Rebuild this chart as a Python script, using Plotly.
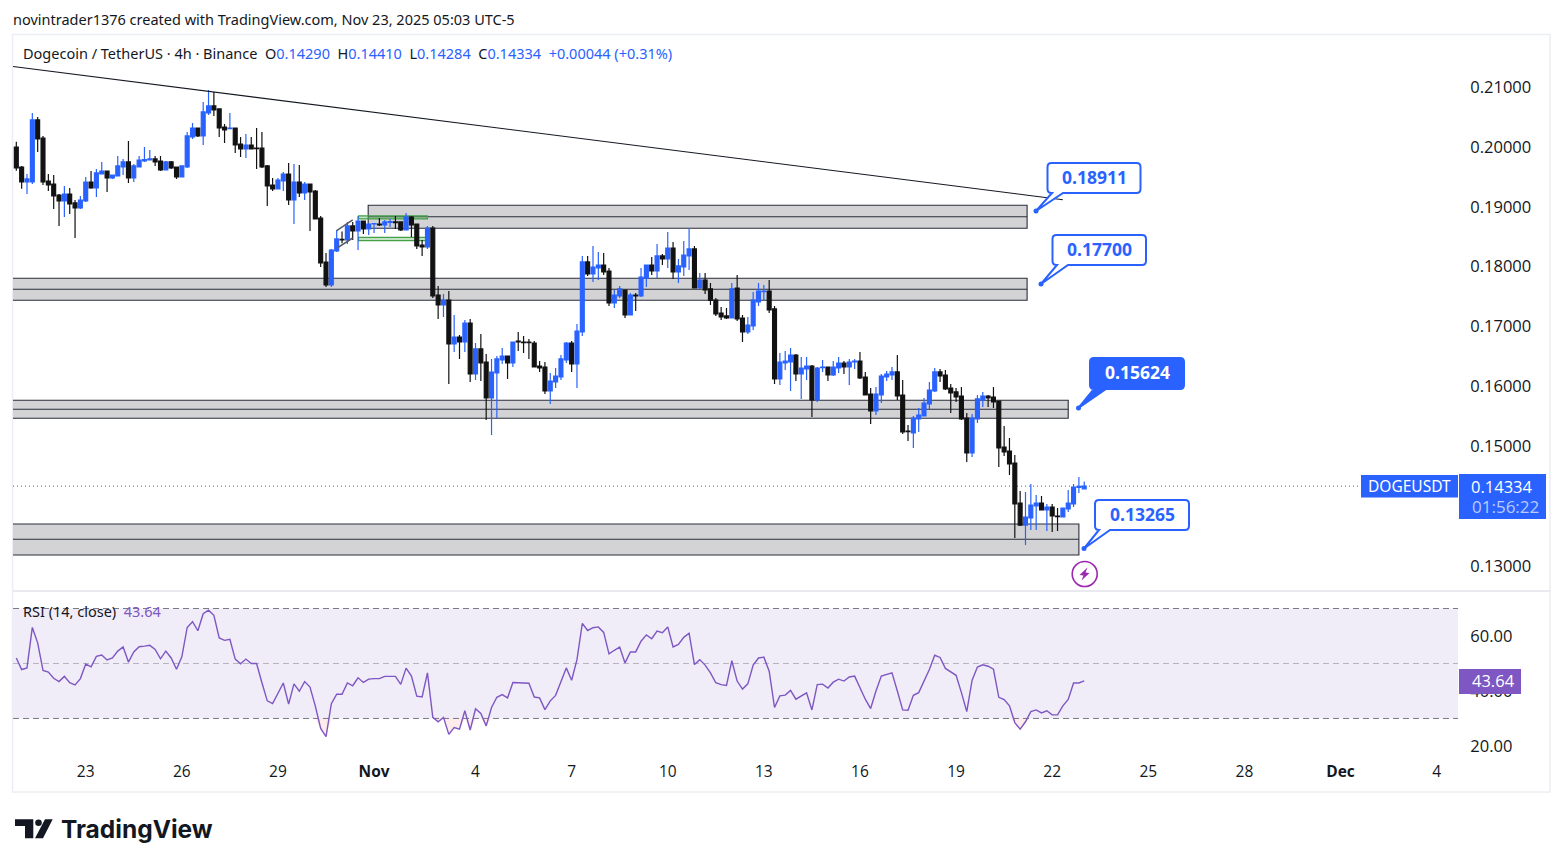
import plotly.graph_objects as go

W, H = 1563, 867
UP = "#2962ff"
DOWN = "#121212"
PURPLE = "#7e57c2"
TEXT = "#131722"
FONT = "Noto Sans"
TICK_FONT = "Open Sans"

opens = [
    0.19998, 0.19664, 0.19413, 0.19413, 0.20449, 0.20148, 0.19430, 0.19380, 0.19196, 0.19096,
    0.19213, 0.19063, 0.18979, 0.19096, 0.19413, 0.19313, 0.19547, 0.19597, 0.19480, 0.19514,
    0.19664, 0.19748, 0.19480, 0.19664, 0.19764, 0.19781, 0.19798, 0.19764, 0.19614, 0.19748,
    0.19664, 0.19497, 0.19664, 0.20165, 0.20315, 0.20182, 0.20566, 0.20683, 0.20633, 0.20332,
    0.20304, 0.20315, 0.20048, 0.19965, 0.20031, 0.19981, 0.19981, 0.19681, 0.19363, 0.19297,
    0.19430, 0.19547, 0.19113, 0.19413, 0.19230, 0.19380, 0.19263, 0.18812, 0.18077, 0.17693,
    0.18261, 0.18456, 0.18445, 0.18679, 0.18595, 0.18762, 0.18629, 0.18712, 0.18712, 0.18695,
    0.18740, 0.18746, 0.18746, 0.18612, 0.18829, 0.18712, 0.18361, 0.18328, 0.18645, 0.17526,
    0.17359, 0.17443, 0.16708, 0.16825, 0.16741, 0.17059, 0.16207, 0.16625, 0.16407, 0.15806,
    0.16224, 0.16441, 0.16508, 0.16391, 0.16758, 0.16741, 0.16741, 0.16725, 0.16341, 0.16324,
    0.15923, 0.16073, 0.16157, 0.16441, 0.16725, 0.16374, 0.16908, 0.18078, 0.17877, 0.17977,
    0.18027, 0.17927, 0.17393, 0.17510, 0.17610, 0.17192, 0.17526, 0.17510, 0.17810, 0.18027,
    0.17927, 0.18178, 0.18128, 0.18311, 0.17911, 0.17994, 0.18178, 0.18295, 0.17643, 0.17777,
    0.17627, 0.17443, 0.17226, 0.17176, 0.17142, 0.17643, 0.17142, 0.16908, 0.17009, 0.17409,
    0.17582, 0.17593, 0.17293, 0.16124, 0.16391, 0.16407, 0.16524, 0.16207, 0.16291, 0.16341,
    0.15773, 0.16313, 0.16324, 0.16190, 0.16307, 0.16391, 0.16324, 0.16407, 0.16424, 0.16157,
    0.15873, 0.15589, 0.15856, 0.16157, 0.16190, 0.16241, 0.15856, 0.15255, 0.15222, 0.15456,
    0.15506, 0.15706, 0.15923, 0.16241, 0.16190, 0.15973, 0.15907, 0.15840, 0.15472, 0.14888,
    0.15456, 0.15773, 0.15840, 0.15823, 0.15756, 0.14988, 0.14921, 0.14721, 0.14053, 0.13685,
    0.13802, 0.14003, 0.14053, 0.13936, 0.13986, 0.13836, 0.13819, 0.13953, 0.14036, 0.14314,
    0.14290,
]
highs = [
    0.20087, 0.19680, 0.19547, 0.20566, 0.20499, 0.20182, 0.19547, 0.19530, 0.19213, 0.19347,
    0.19313, 0.19113, 0.19180, 0.19497, 0.19597, 0.19631, 0.19748, 0.19605, 0.19530, 0.19848,
    0.19798, 0.20098, 0.19714, 0.19848, 0.19998, 0.19948, 0.19848, 0.19848, 0.19764, 0.19764,
    0.19670, 0.19690, 0.20249, 0.20399, 0.20320, 0.20750, 0.20950, 0.20917, 0.20640, 0.20382,
    0.20566, 0.20320, 0.20165, 0.20215, 0.20165, 0.20315, 0.20249, 0.19697, 0.19480, 0.19480,
    0.19581, 0.19731, 0.19714, 0.19697, 0.19413, 0.19385, 0.19280, 0.18846, 0.18228, 0.18295,
    0.18612, 0.18585, 0.18746, 0.18746, 0.18846, 0.18770, 0.18729, 0.18729, 0.18812, 0.18779,
    0.18796, 0.18846, 0.18750, 0.18896, 0.18846, 0.18720, 0.18445, 0.18679, 0.18679, 0.17677,
    0.17543, 0.17593, 0.17192, 0.16858, 0.17109, 0.17126, 0.16725, 0.16875, 0.16541, 0.16458,
    0.16508, 0.16641, 0.16515, 0.16750, 0.16908, 0.16842, 0.16792, 0.16758, 0.16424, 0.16407,
    0.16224, 0.16307, 0.16524, 0.16741, 0.16758, 0.17042, 0.18178, 0.18178, 0.18345, 0.18245,
    0.18228, 0.17977, 0.17610, 0.17677, 0.17615, 0.17560, 0.17560, 0.17977, 0.18035, 0.18161,
    0.18378, 0.18211, 0.18579, 0.18412, 0.18128, 0.18428, 0.18645, 0.18345, 0.17894, 0.17894,
    0.17727, 0.17476, 0.17326, 0.17309, 0.17727, 0.17860, 0.17192, 0.17159, 0.17577, 0.17727,
    0.17693, 0.17777, 0.17343, 0.16558, 0.16591, 0.16641, 0.16541, 0.16491, 0.16491, 0.16358,
    0.16324, 0.16441, 0.16330, 0.16424, 0.16491, 0.16424, 0.16458, 0.16458, 0.16575, 0.16241,
    0.15973, 0.15990, 0.16207, 0.16257, 0.16324, 0.16525, 0.16107, 0.15355, 0.15506, 0.15639,
    0.15806, 0.16074, 0.16307, 0.16291, 0.16274, 0.16040, 0.15973, 0.15990, 0.15556, 0.15539,
    0.15856, 0.15907, 0.15856, 0.15990, 0.15762, 0.15339, 0.15138, 0.14854, 0.14253, 0.14236,
    0.14370, 0.14186, 0.14170, 0.14036, 0.14036, 0.13969, 0.13975, 0.14270, 0.14370, 0.14487,
    0.14410,
]
lows = [
    0.19603, 0.19302, 0.19213, 0.19380, 0.19915, 0.19363, 0.19263, 0.18963, 0.18679, 0.18829,
    0.18879, 0.18478, 0.18963, 0.19080, 0.19300, 0.19163, 0.19540, 0.19246, 0.19464, 0.19505,
    0.19530, 0.19397, 0.19413, 0.19655, 0.19748, 0.19775, 0.19681, 0.19597, 0.19610, 0.19631,
    0.19464, 0.19490, 0.19647, 0.20132, 0.20165, 0.20031, 0.20532, 0.20516, 0.20165, 0.20065,
    0.20299, 0.19898, 0.19831, 0.19814, 0.19960, 0.19631, 0.19647, 0.19013, 0.19263, 0.19290,
    0.19263, 0.19029, 0.18712, 0.19163, 0.19113, 0.18595, 0.18790, 0.17994, 0.17660, 0.17660,
    0.18244, 0.18390, 0.18378, 0.18445, 0.18278, 0.18545, 0.18528, 0.18562, 0.18679, 0.18562,
    0.18662, 0.18629, 0.18595, 0.18605, 0.18495, 0.18295, 0.18178, 0.18295, 0.17476, 0.17126,
    0.17159, 0.16040, 0.16574, 0.16458, 0.16574, 0.16073, 0.16107, 0.16090, 0.15439, 0.15188,
    0.15472, 0.16374, 0.16124, 0.16324, 0.16591, 0.16558, 0.16458, 0.16320, 0.16240, 0.15873,
    0.15706, 0.15973, 0.16107, 0.16391, 0.16240, 0.15973, 0.16842, 0.17844, 0.17744, 0.17777,
    0.17860, 0.17343, 0.17309, 0.17476, 0.17142, 0.17185, 0.17259, 0.17493, 0.17660, 0.17860,
    0.17810, 0.18027, 0.17977, 0.17794, 0.17727, 0.17844, 0.17944, 0.17635, 0.17627, 0.17543,
    0.17359, 0.17176, 0.17109, 0.17126, 0.17135, 0.17092, 0.16741, 0.16875, 0.16942, 0.17343,
    0.17443, 0.17226, 0.16040, 0.16023, 0.16274, 0.15923, 0.16090, 0.15789, 0.16107, 0.15489,
    0.15739, 0.16240, 0.16090, 0.16174, 0.16224, 0.16207, 0.16023, 0.16291, 0.16124, 0.15850,
    0.15372, 0.15522, 0.15723, 0.16090, 0.16107, 0.15773, 0.15205, 0.15088, 0.14971, 0.15239,
    0.15500, 0.15623, 0.15907, 0.16074, 0.15940, 0.15556, 0.15740, 0.15439, 0.14737, 0.14821,
    0.15389, 0.15656, 0.15656, 0.15639, 0.14654, 0.14838, 0.14520, 0.13468, 0.13669, 0.13351,
    0.13602, 0.13602, 0.13930, 0.13585, 0.13568, 0.13585, 0.13815, 0.13902, 0.13986, 0.14220,
    0.14284,
]
closes = [
    0.19647, 0.19413, 0.19464, 0.20449, 0.20132, 0.19413, 0.19363, 0.19180, 0.19096, 0.19213,
    0.19046, 0.18979, 0.19113, 0.19413, 0.19313, 0.19564, 0.19597, 0.19480, 0.19530, 0.19681,
    0.19748, 0.19480, 0.19681, 0.19781, 0.19787, 0.19798, 0.19748, 0.19614, 0.19748, 0.19647,
    0.19497, 0.19681, 0.20182, 0.20315, 0.20182, 0.20583, 0.20683, 0.20616, 0.20315, 0.20282,
    0.20315, 0.20031, 0.19965, 0.20031, 0.19965, 0.19970, 0.19664, 0.19347, 0.19297, 0.19447,
    0.19547, 0.19113, 0.19413, 0.19230, 0.19380, 0.19246, 0.18796, 0.18061, 0.17693, 0.18278,
    0.18462, 0.18445, 0.18679, 0.18595, 0.18762, 0.18629, 0.18712, 0.18718, 0.18695, 0.18746,
    0.18751, 0.18734, 0.18612, 0.18829, 0.18695, 0.18345, 0.18328, 0.18645, 0.17510, 0.17359,
    0.17443, 0.16708, 0.16825, 0.16741, 0.17059, 0.16207, 0.16625, 0.16391, 0.15806, 0.16240,
    0.16458, 0.16508, 0.16391, 0.16741, 0.16741, 0.16730, 0.16730, 0.16324, 0.16307, 0.15923,
    0.16090, 0.16174, 0.16458, 0.16725, 0.16374, 0.16925, 0.18078, 0.17877, 0.17994, 0.18027,
    0.17911, 0.17393, 0.17526, 0.17627, 0.17192, 0.17526, 0.17510, 0.17827, 0.18027, 0.17927,
    0.18178, 0.18128, 0.18311, 0.17911, 0.18011, 0.18194, 0.18295, 0.17643, 0.17777, 0.17610,
    0.17437, 0.17209, 0.17159, 0.17142, 0.17627, 0.17126, 0.16908, 0.17025, 0.17443, 0.17593,
    0.17593, 0.17276, 0.16124, 0.16407, 0.16424, 0.16524, 0.16207, 0.16307, 0.16341, 0.15773,
    0.16307, 0.16324, 0.16190, 0.16324, 0.16391, 0.16324, 0.16407, 0.16424, 0.16140, 0.15856,
    0.15589, 0.15873, 0.16174, 0.16207, 0.16241, 0.15840, 0.15239, 0.15244, 0.15472, 0.15522,
    0.15723, 0.15940, 0.16241, 0.16174, 0.15957, 0.15890, 0.15823, 0.15456, 0.14888, 0.15472,
    0.15790, 0.15840, 0.15806, 0.15740, 0.14971, 0.14905, 0.14704, 0.14036, 0.13685, 0.13819,
    0.14019, 0.14053, 0.13936, 0.13986, 0.13836, 0.13825, 0.13969, 0.14053, 0.14320, 0.14331,
    0.14334,
]
rsi = [
    52.0, 47.8, 48.4, 63.1, 57.5, 47.5, 46.9, 44.6, 43.4, 45.3,
    43.0, 42.2, 44.5, 49.8, 48.8, 52.6, 53.1, 51.3, 52.0, 54.5,
    56.0, 50.5, 54.2, 56.1, 56.3, 56.6, 55.1, 51.7, 54.5, 52.0,
    47.9, 52.4, 63.1, 65.2, 61.9, 68.1, 69.4, 67.5, 59.3, 58.4,
    58.8, 51.6, 49.9, 51.6, 50.0, 50.0, 43.0, 36.4, 35.4, 39.4,
    42.9, 35.2, 42.6, 39.9, 43.4, 41.4, 34.5, 26.4, 23.4, 35.4,
    38.8, 38.8, 42.9, 41.9, 44.8, 43.1, 44.3, 44.5, 44.5, 45.3,
    45.4, 45.3, 42.4, 48.3, 45.4, 38.1, 37.8, 46.6, 30.4, 28.8,
    30.4, 24.2, 26.7, 26.1, 32.8, 25.8, 33.5, 31.8, 27.3, 34.0,
    37.7, 38.7, 37.5, 43.1, 43.0, 42.9, 42.8, 37.8, 37.5, 33.2,
    36.4, 38.4, 43.6, 48.4, 43.9, 51.4, 64.6, 62.0, 63.0, 63.3,
    61.3, 53.5, 54.8, 56.0, 50.2, 54.2, 54.2, 58.1, 60.4, 59.0,
    61.8, 61.2, 63.3, 56.0, 56.9, 59.5, 61.0, 49.6, 51.4, 49.4,
    46.6, 43.0, 42.3, 42.0, 51.0, 43.6, 40.7, 42.6, 49.4, 52.0,
    52.3, 47.2, 34.0, 38.2, 38.5, 40.2, 37.0, 38.2, 39.3, 33.1,
    42.3, 42.5, 41.1, 43.2, 44.3, 43.6, 45.1, 45.4, 41.2, 37.0,
    33.6, 40.0, 45.4, 46.0, 46.6, 40.0, 33.1, 33.0, 38.4, 39.4,
    43.4, 47.8, 53.0, 52.2, 48.2, 47.0, 45.7, 39.4, 32.5, 43.9,
    48.7, 49.5, 49.0, 47.9, 37.7, 36.9, 34.6, 28.5, 26.1, 28.8,
    32.5, 33.1, 32.0, 32.8, 31.3, 31.3, 34.6, 36.9, 42.9, 42.9,
    43.64,
]
bars = list(range(len(closes)))

date_ticks = [13, 31, 49, 67, 86, 104, 122, 140, 158, 176, 194, 212, 230, 248, 266]
date_labels = ["23", "26", "29", "<b>Nov</b>", "4", "7", "10", "13", "16", "19", "22", "25", "28", "<b>Dec</b>", "4"]
price_ticks = [0.21, 0.20, 0.19, 0.18, 0.17, 0.16, 0.15, 0.13]
rsi_ticks = [60, 40, 20]

# support zones: first bar, last bar, top, middle, bottom
zones = [
    (65.9, 189.3, 0.19024, 0.18833, 0.18640),
    (-2, 189.3, 0.17805, 0.17622, 0.17438),
    (-2, 197.0, 0.15768, 0.15618, 0.15468),
    (-2, 199.0, 0.13702, 0.13447, 0.13185),
]
last_price = closes[-1]


def px(x):
    return x / W


def py(y):
    return 1 - y / H


def callout(x0, y0, x1, y1, base0, base1, tip):
    # rounded box with a wedge pointing at tip, in page pixels
    r = 4
    pts = [
        f"M{px(x0 + r)},{py(y0)}", f"L{px(x1 - r)},{py(y0)}",
        f"Q{px(x1)},{py(y0)} {px(x1)},{py(y0 + r)}", f"L{px(x1)},{py(y1 - r)}",
        f"Q{px(x1)},{py(y1)} {px(x1 - r)},{py(y1)}", f"L{px(base1)},{py(y1)}",
        f"L{px(tip[0])},{py(tip[1])}", f"L{px(base0)},{py(y1)}",
        f"L{px(x0 + r)},{py(y1)}", f"Q{px(x0)},{py(y1)} {px(x0)},{py(y1 - r)}",
        f"L{px(x0)},{py(y0 + r)}", f"Q{px(x0)},{py(y0)} {px(x0 + r)},{py(y0)}", "Z",
    ]
    return " ".join(pts)


def poly(points):
    path = "M" + " L".join(f"{px(a)},{py(b)}" for a, b in points) + " Z"
    return path


def label(x, y, text, size=14.5, color=TEXT, anchor="left", font=FONT):
    return dict(
        xref="paper", yref="paper", x=px(x), y=py(y), text=text, showarrow=False,
        xanchor=anchor, yanchor="middle", align="left", borderpad=0,
        font=dict(family=font, size=size, color=color),
    )


fig = go.Figure()
fig.add_trace(go.Candlestick(
    x=bars, open=opens, high=highs, low=lows, close=closes, yaxis="y", whiskerwidth=0,
    increasing=dict(line=dict(color=UP, width=1.2), fillcolor=UP),
    decreasing=dict(line=dict(color=DOWN, width=1.2), fillcolor=DOWN),
    hoverinfo="skip", showlegend=False,
))
# faint red where the RSI dips under 30
fig.add_trace(go.Scatter(
    x=bars, y=[30] * len(bars), yaxis="y2", mode="lines", line=dict(width=0),
    hoverinfo="skip", showlegend=False,
))
fig.add_trace(go.Scatter(
    x=bars, y=[min(v, 30) for v in rsi], yaxis="y2", mode="lines", line=dict(width=0),
    fill="tonexty", fillcolor="rgba(242,54,69,0.10)", hoverinfo="skip", showlegend=False,
))
fig.add_trace(go.Scatter(
    x=bars, y=rsi, yaxis="y2", mode="lines", line=dict(color=PURPLE, width=1.4),
    hoverinfo="skip", showlegend=False,
))

shapes = [
    dict(type="rect", xref="paper", yref="paper", x0=px(12.5), x1=px(1550), y0=py(34.5), y1=py(792),
         line=dict(color="#eceef3", width=1.5), layer="below"),
    dict(type="line", xref="paper", yref="paper", x0=px(13), x1=px(1550), y0=py(591), y1=py(591),
         line=dict(color="#e0e3eb", width=1.5), layer="below"),
    dict(type="rect", xref="paper", yref="y2", x0=px(13), x1=px(1458), y0=30, y1=70,
         fillcolor="#f0ecf8", line=dict(width=0), layer="below"),
]
for level, color in [(70, "#787b86"), (50, "#b6b3c0"), (30, "#787b86")]:
    shapes.append(dict(type="line", xref="paper", yref="y2", x0=px(13), x1=px(1458), y0=level, y1=level,
                       line=dict(color=color, width=1, dash="6px,4px"), layer="below"))
for x0, x1, top, mid, bottom in zones:
    shapes.append(dict(type="rect", x0=x0, x1=x1, y0=bottom, y1=top, xref="x", yref="y",
                       fillcolor="#d3d3d6", line=dict(color="#2a2e39", width=1.1), layer="below"))
    shapes.append(dict(type="line", x0=x0, x1=x1, y0=mid, y1=mid, xref="x", yref="y",
                       line=dict(color="#2a2e39", width=1.1), layer="below"))

# trend line, flag and the two green boxes
shapes.append(dict(type="line", xref="x", yref="y", x0=-0.62, x1=196, y0=0.21342, y1=0.19118,
                   line=dict(color="#131722", width=1.1)))
for x0, x1, y0, y1 in [(60, 63, 0.18602, 0.18779), (60.2, 63, 0.18316, 0.18478)]:
    shapes.append(dict(type="line", xref="x", yref="y", x0=x0, x1=x1, y0=y0, y1=y1,
                       line=dict(color="#555862", width=1.5)))
for y0, y1 in [(0.18846, 0.18796), (0.18490, 0.18433)]:
    shapes.append(dict(type="rect", xref="x", yref="y", x0=64.1, x1=77, y0=y0, y1=y1, layer="below",
                       fillcolor="rgba(76,175,80,0.35)", line=dict(color="#43a047", width=1.2)))

shapes.append(dict(type="line", xref="x", yref="y", x0=-0.62, x1=252, y0=last_price, y1=last_price,
                   line=dict(color=UP, width=1, dash="1px,3px"), layer="below"))

# callouts
callouts = [
    ((1047.5, 163, 1140.5, 193, 1052, 1063, (1036, 211)), "white", "0.18911", UP, 1094),
    ((1052.5, 235, 1146, 265, 1057, 1068, (1041, 284)), "white", "0.17700", UP, 1099),
    ((1090, 358, 1184, 389, 1094, 1106, (1078.5, 408)), UP, "0.15624", "white", 1137),
    ((1095, 500, 1189, 530, 1099, 1110, (1084, 548.5)), "white", "0.13265", UP, 1142),
]
annotations = []
for box, fill, text, ink, mid_x in callouts:
    shapes.append(dict(type="path", xref="paper", yref="paper", path=callout(*box),
                       fillcolor=fill, line=dict(color=UP, width=2)))
    tip = box[6]
    shapes.append(dict(type="circle", xref="paper", yref="paper",
                       x0=px(tip[0] - 2.5), x1=px(tip[0] + 2.5), y0=py(tip[1] - 2.5), y1=py(tip[1] + 2.5),
                       fillcolor=UP, line=dict(width=0)))
    annotations.append(label(mid_x, (box[1] + box[3]) / 2 - 1.5, f"<b>{text}</b>", size=17.5, color=ink,
                             anchor="center", font=TICK_FONT))

# bolt badge
shapes.append(dict(type="circle", xref="paper", yref="paper", x0=px(1072.2), x1=px(1097.2), y0=py(561.5), y1=py(586.5),
                   fillcolor="white", line=dict(color="#9c27b0", width=1.6)))
shapes.append(dict(type="path", xref="paper", yref="paper", fillcolor="#9c27b0", line=dict(width=0),
                   path=poly([(1087.5, 567.5), (1079.5, 575), (1083.5, 575.5), (1081.5, 580.5), (1089.5, 573), (1085.5, 572.5)])))

# price flags on the right
shapes.append(dict(type="rect", xref="paper", yref="paper", x0=px(1361), x1=px(1458), y0=py(475), y1=py(497.5),
                   fillcolor=UP, line=dict(width=0)))
shapes.append(dict(type="rect", xref="paper", yref="paper", x0=px(1459), x1=px(1546), y0=py(474), y1=py(519),
                   fillcolor=UP, line=dict(width=0)))
shapes.append(dict(type="rect", xref="paper", yref="paper", x0=px(1459), x1=px(1521), y0=py(669), y1=py(694),
                   fillcolor=PURPLE, line=dict(width=0)))

# logo
shapes.append(dict(type="path", xref="paper", yref="paper", fillcolor="#131722", line=dict(width=0),
                   path=poly([(15, 819.3), (33.3, 819.3), (33.3, 838.3), (25, 838.3), (25, 826), (15, 826)])))
shapes.append(dict(type="circle", xref="paper", yref="paper", x0=px(35.2), x1=px(41.8), y0=py(819.5), y1=py(826.1),
                   fillcolor="#131722", line=dict(width=0)))
shapes.append(dict(type="path", xref="paper", yref="paper", fillcolor="#131722", line=dict(width=0),
                   path=poly([(45, 819.3), (52.7, 819.3), (43, 838.3), (35, 838.3)])))

blue = f'<span style="color:{UP}">'
annotations += [
    label(12, 19, "novintrader1376 created with TradingView.com, Nov 23, 2025 05:03 UTC-5"),
    label(22, 53, f"Dogecoin / TetherUS · 4h · Binance  O{blue}0.14290</span>  H{blue}0.14410</span>  "
                  f"L{blue}0.14284</span>  C{blue}0.14334</span>  {blue}+0.00044 (+0.31%)</span>"),
    label(22, 611, f'RSI (14, close)  <span style="color:{PURPLE}">43.64</span>'),
    label(1409.5, 486, "DOGEUSDT", size=15.5, color="white", anchor="center"),
    label(1502, 486, "0.14334", size=16.5, color="white", anchor="center", font=TICK_FONT),
    label(1505, 506.5, "01:56:22", size=17, color="#b9caff", anchor="center", font=TICK_FONT),
    label(1493, 680.5, "43.64", size=16.5, color="white", anchor="center", font=TICK_FONT),
    label(60, 829, "<b>TradingView</b>", size=24.5, color="#131722", font="Inter"),
]

fig.update_layout(
    width=W, height=H, margin=dict(l=0, r=0, t=0, b=0, pad=0, autoexpand=False),
    paper_bgcolor="white", plot_bgcolor="white", showlegend=False, boxgap=0.0, boxgroupgap=0.27,
    font=dict(family=TICK_FONT, size=15, color=TEXT),
    xaxis=dict(
        domain=[px(13), px(1458)], range=[-0.62, 270], anchor="y2", rangeslider=dict(visible=False),
        showgrid=False, zeroline=False, showline=False, tickmode="array", tickvals=date_ticks,
        ticktext=date_labels, ticks="outside", ticklen=5, tickcolor="rgba(0,0,0,0)", tickangle=0,
        tickfont=dict(size=15.5),
    ),
    yaxis=dict(
        domain=[py(590), py(35)], range=[0.12600, 0.21868], anchor="x", side="right",
        showgrid=False, zeroline=False, showline=False, tickmode="array", tickvals=price_ticks,
        tickformat=".5f", ticks="outside", ticklen=8, tickcolor="rgba(0,0,0,0)", tickfont=dict(size=16.5),
    ),
    yaxis2=dict(
        domain=[py(752), py(592)], range=[17.8, 76], anchor="x", side="right",
        showgrid=False, zeroline=False, showline=False, tickmode="array", tickvals=rsi_ticks,
        tickformat=".2f", ticks="outside", ticklen=8, tickcolor="rgba(0,0,0,0)", tickfont=dict(size=16.5),
    ),
    shapes=shapes, annotations=annotations,
)

fig.write_html(
    "out.html",
    config={"displayModeBar": False},
    post_script="document.body.style.margin='0';document.documentElement.style.overflow='hidden';",
)
